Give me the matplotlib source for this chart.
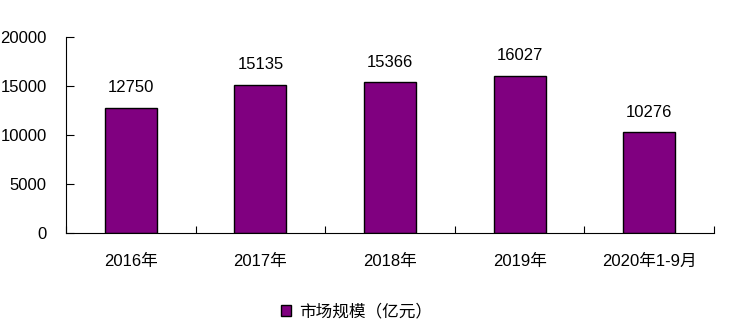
import matplotlib.pyplot as plt
from matplotlib.patches import Patch

plt.rcParams['font.family'] = ['Liberation Sans', 'Noto Sans CJK SC', 'DejaVu Sans']

# Data
categories = ['2016年', '2017年', '2018年', '2019年', '2020年1-9月']
values = [12750, 15135, 15366, 16027, 10276]
yticks = [0, 5000, 10000, 15000, 20000]

bar_color = '#800080'

fig = plt.figure(figsize=(7.29, 3.19), dpi=100)
ax = fig.add_axes([0.0905, 0.2696, 0.889, 0.6144])

x = list(range(len(categories)))
bars = ax.bar(x, values, width=0.4, color=bar_color, edgecolor='black', linewidth=1)

for xi, v in zip(x, values):
    ax.text(xi, v + 1300, str(v), ha='center', va='bottom', fontsize=12)

ax.set_xlim(-0.5, len(categories) - 0.5)
ax.set_ylim(0, 20000)
ax.set_yticks(yticks)
ax.set_yticklabels([str(t) for t in yticks], fontsize=12)

# category boundaries carry the tick marks
ax.set_xticks([i - 0.5 for i in range(len(categories) + 1)])
ax.set_xticklabels([])
ax.set_xticks(x, minor=True)
ax.set_xticklabels(categories, minor=True, fontsize=12)
ax.tick_params(axis='x', which='minor', length=0, pad=15)
ax.tick_params(axis='x', which='major', direction='in', length=5)
ax.tick_params(axis='y', direction='in', length=6, pad=14)

for s in ['top', 'right']:
    ax.spines[s].set_visible(False)

handles = [Patch(facecolor=bar_color, edgecolor='black', label='市场规模（亿元）')]
fig.legend(handles=handles, loc='center', bbox_to_anchor=(0.489, 0.024),
           frameon=False, fontsize=12, handlelength=0.6, handleheight=0.6,
           handletextpad=0.5, borderpad=0)

fig.savefig('out.png', dpi=100)
